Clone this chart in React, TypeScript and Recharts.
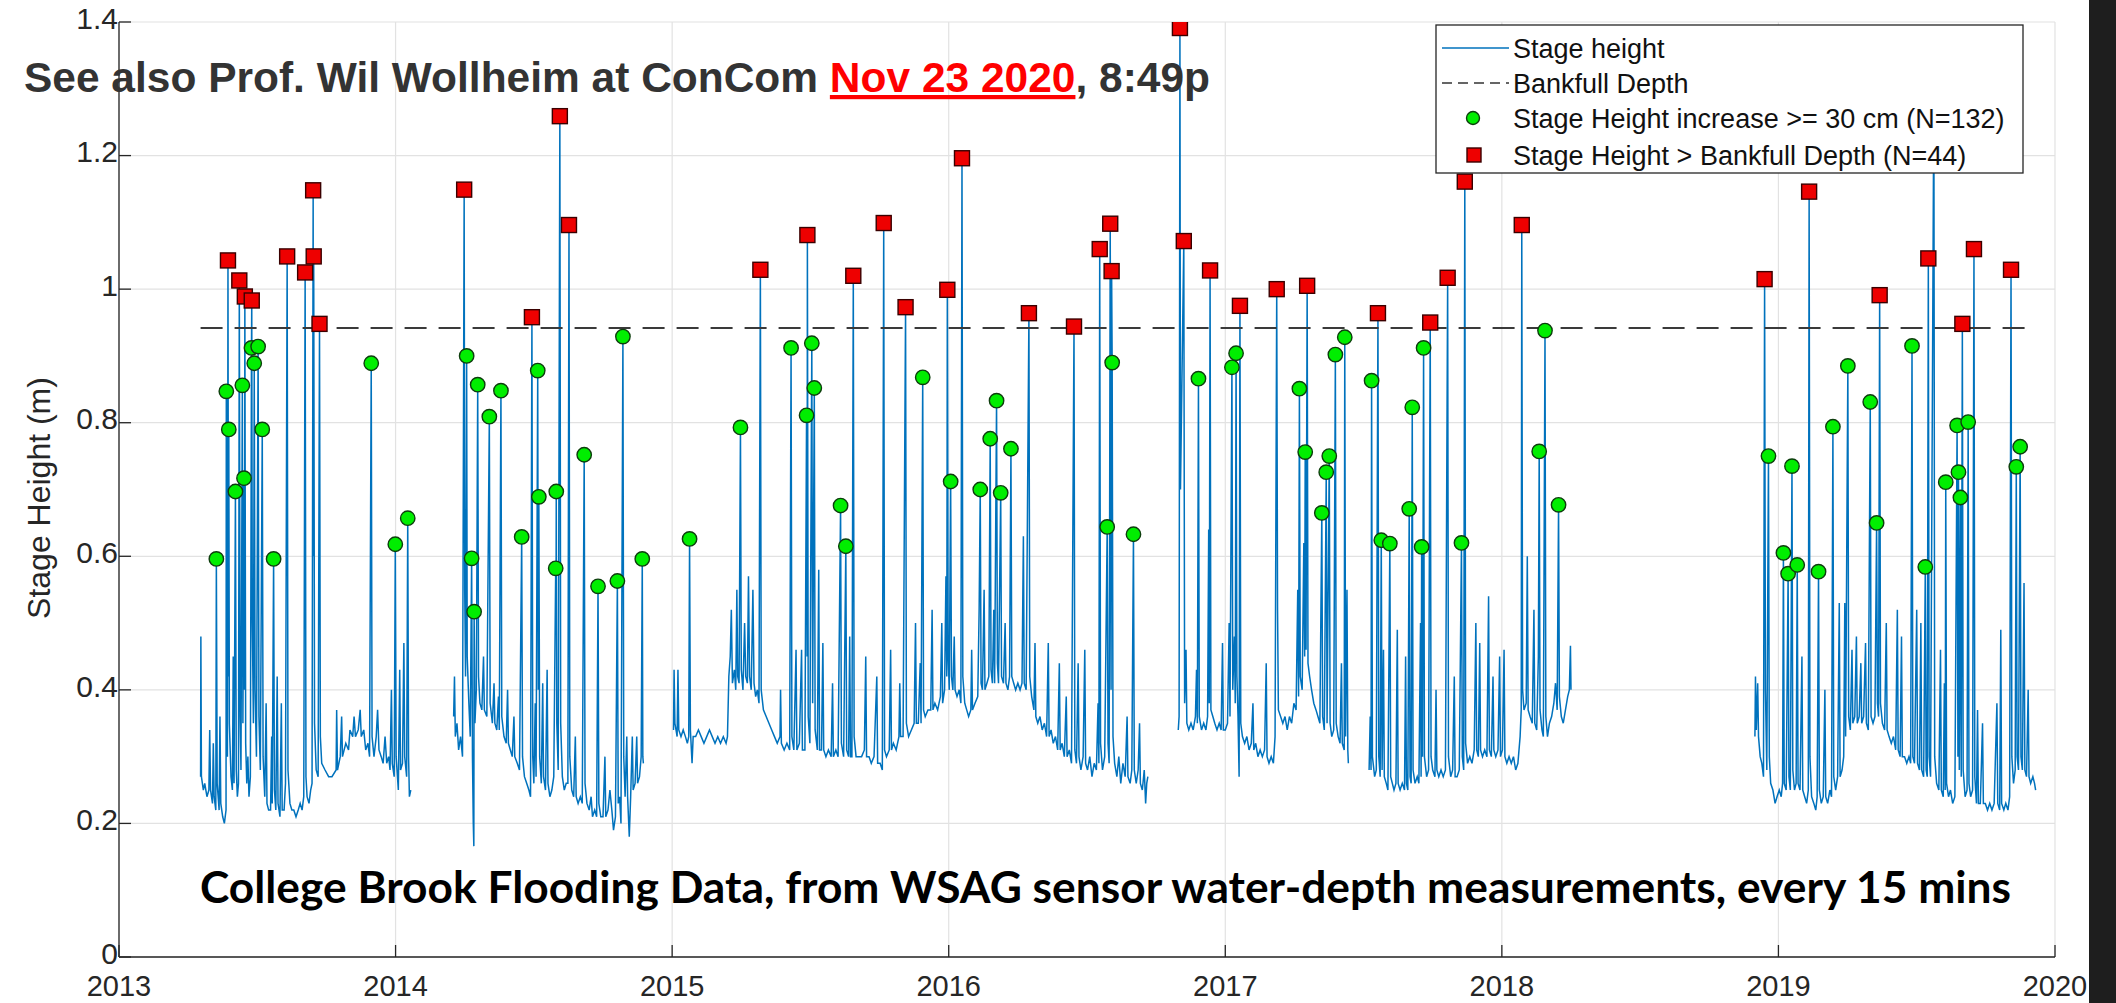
import React from 'react';
import { ComposedChart, Line, Scatter, XAxis, YAxis, CartesianGrid } from 'recharts';

type Pt = [number, number];

// axis ticks
const yearTicks = [2013, 2014, 2015, 2016, 2017, 2018, 2019, 2020];
const heightTicks = [0, 0.2, 0.4, 0.6, 0.8, 1, 1.2, 1.4];

// bankfull depth (m) over the sensor record
const bankfullDepth = 0.942;
const recordSpan = [2013.295, 2019.93];

// stage height (m), one array per continuous record
const stage2013: Pt[] = [
  [2013.295, 0.27], [2013.296, 0.48], [2013.298, 0.27], [2013.305, 0.25], [2013.31, 0.26], [2013.318, 0.24], [2013.325, 0.25],
  [2013.328, 0.34], [2013.331, 0.25], [2013.338, 0.23], [2013.341, 0.32], [2013.344, 0.24], [2013.35, 0.22], [2013.352, 0.596],
  [2013.355, 0.26], [2013.362, 0.22], [2013.365, 0.36], [2013.368, 0.23], [2013.375, 0.21], [2013.381, 0.2], [2013.387, 0.22],
  [2013.388, 0.847], [2013.39, 0.4], [2013.392, 0.3], [2013.394, 1.043], [2013.396, 0.42], [2013.397, 0.79], [2013.399, 0.35],
  [2013.405, 0.27], [2013.41, 0.25], [2013.413, 0.45], [2013.416, 0.26], [2013.421, 0.697], [2013.424, 0.28], [2013.428, 0.24],
  [2013.432, 0.26], [2013.435, 1.013], [2013.438, 0.36], [2013.441, 0.28], [2013.446, 0.856], [2013.448, 0.35], [2013.452, 0.717],
  [2013.454, 0.4], [2013.455, 0.989], [2013.458, 0.32], [2013.462, 0.26], [2013.466, 0.3], [2013.47, 0.24], [2013.475, 0.27],
  [2013.479, 0.912], [2013.48, 0.983], [2013.482, 0.5], [2013.486, 0.35], [2013.489, 0.889], [2013.492, 0.4], [2013.497, 0.3],
  [2013.503, 0.914], [2013.506, 0.36], [2013.511, 0.28], [2013.518, 0.79], [2013.521, 0.3], [2013.527, 0.24], [2013.532, 0.38],
  [2013.535, 0.23], [2013.541, 0.22], [2013.548, 0.22], [2013.552, 0.33], [2013.554, 0.23], [2013.559, 0.596], [2013.562, 0.25],
  [2013.567, 0.22], [2013.572, 0.42], [2013.575, 0.23], [2013.582, 0.21], [2013.587, 0.38], [2013.59, 0.22], [2013.597, 0.22],
  [2013.602, 0.26], [2013.608, 1.049], [2013.611, 0.28], [2013.618, 0.23], [2013.625, 0.22], [2013.632, 0.22], [2013.64, 0.21],
  [2013.648, 0.22], [2013.655, 0.23], [2013.662, 0.22], [2013.668, 0.24], [2013.673, 1.025], [2013.676, 0.27], [2013.68, 0.24],
  [2013.687, 0.23], [2013.693, 0.25], [2013.698, 0.26], [2013.702, 1.148], [2013.703, 0.6], [2013.704, 1.049], [2013.707, 0.35],
  [2013.713, 0.28], [2013.72, 0.27], [2013.725, 0.948], [2013.728, 0.33], [2013.733, 0.29], [2013.745, 0.28], [2013.758, 0.27],
  [2013.77, 0.27], [2013.785, 0.28], [2013.787, 0.37], [2013.79, 0.28], [2013.8, 0.3], [2013.805, 0.36], [2013.808, 0.3],
  [2013.82, 0.32], [2013.83, 0.31], [2013.835, 0.34], [2013.845, 0.33], [2013.85, 0.36], [2013.855, 0.33], [2013.865, 0.34],
  [2013.872, 0.37], [2013.876, 0.33], [2013.885, 0.34], [2013.892, 0.31], [2013.9, 0.32], [2013.906, 0.3], [2013.912, 0.889],
  [2013.915, 0.33], [2013.922, 0.3], [2013.93, 0.33], [2013.935, 0.37], [2013.94, 0.31], [2013.948, 0.3], [2013.955, 0.29],
  [2013.962, 0.33], [2013.968, 0.29], [2013.975, 0.3], [2013.98, 0.28], [2013.985, 0.4], [2013.988, 0.29], [2013.995, 0.27],
  [2013.999, 0.618], [2014.002, 0.3], [2014.01, 0.25], [2014.015, 0.43], [2014.018, 0.28], [2014.025, 0.29], [2014.03, 0.47],
  [2014.033, 0.3], [2014.04, 0.27], [2014.044, 0.657], [2014.047, 0.3], [2014.05, 0.24], [2014.055, 0.25],
];

const stage2014: Pt[] = [
  [2014.21, 0.36], [2014.213, 0.42], [2014.216, 0.33], [2014.222, 0.35], [2014.228, 0.31], [2014.235, 0.33], [2014.242, 0.3],
  [2014.248, 1.149], [2014.25, 0.55], [2014.253, 0.42], [2014.257, 0.9], [2014.259, 0.45], [2014.265, 0.38], [2014.27, 0.33],
  [2014.275, 0.597], [2014.278, 0.3], [2014.281, 0.2], [2014.283, 0.166], [2014.284, 0.517], [2014.287, 0.35], [2014.292, 0.4],
  [2014.297, 0.857], [2014.3, 0.42], [2014.305, 0.38], [2014.312, 0.37], [2014.318, 0.45], [2014.321, 0.37], [2014.33, 0.36],
  [2014.339, 0.809], [2014.342, 0.38], [2014.35, 0.35], [2014.356, 0.41], [2014.359, 0.35], [2014.366, 0.34], [2014.372, 0.39],
  [2014.375, 0.34], [2014.381, 0.848], [2014.384, 0.36], [2014.392, 0.33], [2014.4, 0.32], [2014.405, 0.4], [2014.408, 0.32],
  [2014.415, 0.31], [2014.422, 0.3], [2014.428, 0.36], [2014.431, 0.3], [2014.44, 0.29], [2014.448, 0.28], [2014.456, 0.629],
  [2014.459, 0.3], [2014.466, 0.27], [2014.474, 0.26], [2014.482, 0.25], [2014.488, 0.24], [2014.493, 0.958], [2014.496, 0.3],
  [2014.5, 0.26], [2014.505, 0.38], [2014.508, 0.27], [2014.514, 0.878], [2014.516, 0.4], [2014.518, 0.689], [2014.521, 0.3],
  [2014.527, 0.26], [2014.532, 0.41], [2014.535, 0.27], [2014.542, 0.25], [2014.548, 0.43], [2014.551, 0.26], [2014.558, 0.24],
  [2014.565, 0.25], [2014.572, 0.27], [2014.579, 0.582], [2014.58, 0.5], [2014.581, 0.697], [2014.583, 0.35], [2014.588, 0.28],
  [2014.594, 1.259], [2014.597, 0.35], [2014.603, 0.27], [2014.61, 0.25], [2014.617, 0.26], [2014.623, 0.26], [2014.627, 1.096],
  [2014.63, 0.3], [2014.637, 0.25], [2014.644, 0.24], [2014.65, 0.33], [2014.653, 0.24], [2014.66, 0.23], [2014.668, 0.24],
  [2014.675, 0.23], [2014.682, 0.752], [2014.685, 0.26], [2014.692, 0.23], [2014.7, 0.22], [2014.707, 0.24], [2014.712, 0.21],
  [2014.72, 0.22], [2014.727, 0.21], [2014.732, 0.555], [2014.735, 0.23], [2014.742, 0.21], [2014.75, 0.21], [2014.757, 0.3],
  [2014.76, 0.21], [2014.768, 0.22], [2014.775, 0.25], [2014.782, 0.22], [2014.788, 0.19], [2014.795, 0.21], [2014.802, 0.563],
  [2014.805, 0.23], [2014.81, 0.24], [2014.815, 0.2], [2014.822, 0.929], [2014.825, 0.3], [2014.83, 0.24], [2014.836, 0.33],
  [2014.839, 0.24], [2014.845, 0.18], [2014.85, 0.24], [2014.856, 0.33], [2014.859, 0.25], [2014.866, 0.26], [2014.872, 0.33],
  [2014.875, 0.26], [2014.882, 0.27], [2014.888, 0.3], [2014.892, 0.596], [2014.894, 0.3], [2014.896, 0.29],
];

const stage2015: Pt[] = [
  [2015.005, 0.34], [2015.007, 0.43], [2015.01, 0.35], [2015.018, 0.33], [2015.021, 0.43], [2015.024, 0.34], [2015.032, 0.33],
  [2015.04, 0.34], [2015.048, 0.33], [2015.055, 0.32], [2015.06, 0.33], [2015.063, 0.626], [2015.066, 0.34], [2015.072, 0.29],
  [2015.076, 0.33], [2015.085, 0.33], [2015.095, 0.34], [2015.105, 0.33], [2015.115, 0.32], [2015.125, 0.33], [2015.135, 0.34],
  [2015.145, 0.33], [2015.155, 0.32], [2015.165, 0.33], [2015.175, 0.32], [2015.185, 0.33], [2015.195, 0.32], [2015.2, 0.33],
  [2015.205, 0.42], [2015.21, 0.45], [2015.214, 0.52], [2015.218, 0.41], [2015.225, 0.43], [2015.23, 0.4], [2015.234, 0.55],
  [2015.237, 0.42], [2015.242, 0.41], [2015.247, 0.793], [2015.25, 0.43], [2015.256, 0.4], [2015.262, 0.5], [2015.266, 0.42],
  [2015.272, 0.41], [2015.276, 0.57], [2015.28, 0.42], [2015.286, 0.4], [2015.292, 0.55], [2015.296, 0.41], [2015.302, 0.39],
  [2015.308, 0.4], [2015.314, 0.38], [2015.319, 1.029], [2015.322, 0.4], [2015.33, 0.37], [2015.34, 0.36], [2015.35, 0.35],
  [2015.36, 0.34], [2015.37, 0.33], [2015.38, 0.32], [2015.39, 0.33], [2015.392, 0.4], [2015.395, 0.32], [2015.405, 0.31],
  [2015.415, 0.32], [2015.425, 0.31], [2015.43, 0.912], [2015.433, 0.33], [2015.44, 0.31], [2015.448, 0.46], [2015.451, 0.31],
  [2015.46, 0.32], [2015.468, 0.46], [2015.471, 0.31], [2015.48, 0.31], [2015.486, 0.811], [2015.488, 0.45], [2015.489, 1.081],
  [2015.492, 0.36], [2015.498, 0.32], [2015.505, 0.919], [2015.508, 0.38], [2015.514, 0.852], [2015.517, 0.34], [2015.525, 0.31],
  [2015.53, 0.58], [2015.533, 0.31], [2015.54, 0.31], [2015.545, 0.47], [2015.548, 0.31], [2015.556, 0.3], [2015.565, 0.31],
  [2015.575, 0.3], [2015.58, 0.41], [2015.583, 0.3], [2015.592, 0.31], [2015.6, 0.3], [2015.609, 0.676], [2015.612, 0.32],
  [2015.62, 0.3], [2015.628, 0.615], [2015.631, 0.31], [2015.638, 0.3], [2015.642, 0.48], [2015.645, 0.3], [2015.65, 0.3],
  [2015.655, 1.02], [2015.658, 0.33], [2015.665, 0.3], [2015.675, 0.3], [2015.685, 0.3], [2015.695, 0.31], [2015.7, 0.45],
  [2015.703, 0.3], [2015.712, 0.3], [2015.72, 0.29], [2015.73, 0.3], [2015.74, 0.42], [2015.743, 0.29], [2015.752, 0.29],
  [2015.76, 0.28], [2015.765, 1.099], [2015.768, 0.31], [2015.775, 0.3], [2015.785, 0.31], [2015.79, 0.46], [2015.793, 0.31],
  [2015.8, 0.32], [2015.81, 0.31], [2015.82, 0.33], [2015.823, 0.41], [2015.826, 0.33], [2015.835, 0.33], [2015.844, 0.973],
  [2015.847, 0.35], [2015.855, 0.33], [2015.865, 0.34], [2015.875, 0.35], [2015.88, 0.5], [2015.883, 0.35], [2015.89, 0.35],
  [2015.897, 0.44], [2015.9, 0.35], [2015.906, 0.868], [2015.909, 0.37], [2015.915, 0.36], [2015.925, 0.37], [2015.935, 0.37],
  [2015.94, 0.52], [2015.943, 0.37], [2015.95, 0.38], [2015.96, 0.37], [2015.97, 0.39], [2015.975, 0.5], [2015.978, 0.38],
  [2015.985, 0.4], [2015.99, 0.57], [2015.993, 0.42], [2015.995, 0.999], [2015.998, 0.45], [2016.002, 0.4], [2016.007, 0.712],
  [2016.01, 0.42], [2016.015, 0.4], [2016.02, 0.48], [2016.023, 0.4], [2016.03, 0.39], [2016.038, 0.4], [2016.044, 0.38],
  [2016.048, 1.196], [2016.051, 0.42], [2016.058, 0.38], [2016.065, 0.37], [2016.072, 0.36], [2016.08, 0.37], [2016.083, 0.46],
  [2016.086, 0.37], [2016.095, 0.38], [2016.105, 0.39], [2016.11, 0.52], [2016.114, 0.7], [2016.117, 0.41], [2016.122, 0.4],
  [2016.128, 0.55], [2016.131, 0.4], [2016.138, 0.41], [2016.145, 0.42], [2016.15, 0.776], [2016.153, 0.43], [2016.158, 0.41],
  [2016.163, 0.52], [2016.166, 0.41], [2016.173, 0.833], [2016.176, 0.44], [2016.18, 0.41], [2016.188, 0.695], [2016.191, 0.42],
  [2016.198, 0.41], [2016.204, 0.5], [2016.207, 0.41], [2016.214, 0.4], [2016.22, 0.42], [2016.225, 0.761], [2016.228, 0.42],
  [2016.235, 0.41], [2016.242, 0.4], [2016.25, 0.41], [2016.258, 0.4], [2016.265, 0.41], [2016.27, 0.63], [2016.273, 0.41],
  [2016.28, 0.4], [2016.29, 0.964], [2016.293, 0.42], [2016.3, 0.39], [2016.308, 0.37], [2016.312, 0.47], [2016.315, 0.36],
  [2016.322, 0.35], [2016.33, 0.36], [2016.338, 0.34], [2016.346, 0.35], [2016.354, 0.33], [2016.36, 0.47], [2016.363, 0.33],
  [2016.37, 0.34], [2016.378, 0.32], [2016.386, 0.33], [2016.394, 0.31], [2016.4, 0.44], [2016.403, 0.31], [2016.41, 0.32],
  [2016.418, 0.3], [2016.425, 0.39], [2016.428, 0.3], [2016.436, 0.31], [2016.444, 0.29], [2016.453, 0.944], [2016.456, 0.31],
  [2016.462, 0.29], [2016.468, 0.44], [2016.471, 0.3], [2016.478, 0.28], [2016.486, 0.3], [2016.492, 0.46], [2016.495, 0.29],
  [2016.502, 0.28], [2016.51, 0.3], [2016.518, 0.27], [2016.526, 0.29], [2016.534, 0.28], [2016.54, 0.38], [2016.543, 0.29],
  [2016.546, 1.06], [2016.549, 0.32], [2016.556, 0.28], [2016.564, 0.3], [2016.573, 0.644], [2016.576, 0.32], [2016.58, 0.29],
  [2016.584, 1.098], [2016.587, 0.4], [2016.589, 1.027], [2016.591, 0.89], [2016.594, 0.33], [2016.6, 0.29], [2016.608, 0.27],
  [2016.615, 0.3], [2016.622, 0.26], [2016.63, 0.29], [2016.638, 0.27], [2016.645, 0.36], [2016.648, 0.27], [2016.656, 0.26],
  [2016.662, 0.28], [2016.668, 0.633], [2016.671, 0.28], [2016.678, 0.26], [2016.685, 0.28], [2016.69, 0.35], [2016.693, 0.26],
  [2016.7, 0.25], [2016.707, 0.28], [2016.712, 0.23], [2016.716, 0.26], [2016.72, 0.27],
];

const stage2017a: Pt[] = [
  [2016.83, 0.34], [2016.833, 0.36], [2016.836, 1.391], [2016.838, 0.7], [2016.85, 1.072], [2016.853, 0.38], [2016.858, 0.46],
  [2016.861, 0.35], [2016.868, 0.34], [2016.876, 0.35], [2016.884, 0.34], [2016.892, 0.36], [2016.896, 0.43], [2016.899, 0.35],
  [2016.903, 0.866], [2016.906, 0.36], [2016.914, 0.34], [2016.922, 0.35], [2016.93, 0.34], [2016.936, 0.36], [2016.94, 0.64],
  [2016.942, 0.38], [2016.945, 1.028], [2016.948, 0.37], [2016.955, 0.36], [2016.962, 0.35], [2016.97, 0.34], [2016.978, 0.35],
  [2016.985, 0.34], [2016.99, 0.47], [2016.993, 0.34], [2017.0, 0.34], [2017.008, 0.35], [2017.014, 0.5], [2017.017, 0.36],
  [2017.024, 0.883], [2017.027, 0.4], [2017.033, 0.48], [2017.036, 0.38], [2017.039, 0.904], [2017.042, 0.42], [2017.046, 0.36],
  [2017.05, 0.27], [2017.053, 0.975], [2017.056, 0.35], [2017.062, 0.33], [2017.07, 0.32], [2017.078, 0.33], [2017.086, 0.31],
  [2017.094, 0.32], [2017.1, 0.38], [2017.103, 0.31], [2017.11, 0.32], [2017.118, 0.3], [2017.126, 0.31], [2017.134, 0.3],
  [2017.142, 0.31], [2017.148, 0.44], [2017.151, 0.3], [2017.158, 0.29], [2017.166, 0.3], [2017.174, 0.29], [2017.18, 0.33],
  [2017.186, 1.0], [2017.189, 0.52], [2017.192, 0.37], [2017.2, 0.36], [2017.208, 0.35], [2017.216, 0.36], [2017.224, 0.34],
  [2017.232, 0.36], [2017.24, 0.35], [2017.248, 0.38], [2017.256, 0.37], [2017.262, 0.55], [2017.265, 0.39], [2017.268, 0.851],
  [2017.271, 0.42], [2017.278, 0.4], [2017.284, 0.62], [2017.287, 0.45], [2017.289, 0.756], [2017.292, 0.46], [2017.296, 1.005],
  [2017.299, 0.44], [2017.305, 0.42], [2017.312, 0.4], [2017.32, 0.38], [2017.328, 0.37], [2017.335, 0.36], [2017.342, 0.35],
  [2017.349, 0.665], [2017.352, 0.36], [2017.358, 0.34], [2017.365, 0.726], [2017.368, 0.35], [2017.376, 0.75], [2017.379, 0.35],
  [2017.385, 0.33], [2017.392, 0.34], [2017.398, 0.902], [2017.401, 0.35], [2017.408, 0.33], [2017.415, 0.32], [2017.42, 0.44],
  [2017.423, 0.32], [2017.43, 0.31], [2017.432, 0.928], [2017.435, 0.33], [2017.44, 0.55], [2017.443, 0.31], [2017.445, 0.29],
];

const stage2017b: Pt[] = [
  [2017.52, 0.28], [2017.524, 0.36], [2017.527, 0.28], [2017.529, 0.863], [2017.532, 0.3], [2017.54, 0.27], [2017.546, 0.28],
  [2017.552, 0.964], [2017.555, 0.3], [2017.56, 0.27], [2017.564, 0.624], [2017.567, 0.28], [2017.572, 0.46], [2017.575, 0.27],
  [2017.582, 0.26], [2017.588, 0.25], [2017.595, 0.619], [2017.598, 0.27], [2017.604, 0.26], [2017.61, 0.25], [2017.617, 0.26],
  [2017.622, 0.49], [2017.625, 0.26], [2017.632, 0.25], [2017.64, 0.26], [2017.648, 0.25], [2017.652, 0.45], [2017.655, 0.26],
  [2017.66, 0.25], [2017.665, 0.671], [2017.668, 0.27], [2017.672, 0.26], [2017.676, 0.823], [2017.679, 0.28], [2017.686, 0.26],
  [2017.694, 0.27], [2017.7, 0.26], [2017.706, 0.5], [2017.708, 0.27], [2017.71, 0.614], [2017.713, 0.3], [2017.717, 0.912],
  [2017.72, 0.3], [2017.728, 0.27], [2017.735, 0.28], [2017.741, 0.95], [2017.744, 0.3], [2017.75, 0.28], [2017.758, 0.27],
  [2017.762, 0.4], [2017.765, 0.28], [2017.772, 0.27], [2017.78, 0.28], [2017.788, 0.27], [2017.796, 0.28], [2017.804, 1.017],
  [2017.807, 0.3], [2017.815, 0.27], [2017.822, 0.28], [2017.828, 0.42], [2017.831, 0.27], [2017.838, 0.27], [2017.846, 0.28],
  [2017.854, 0.62], [2017.857, 0.3], [2017.862, 0.28], [2017.866, 1.161], [2017.869, 0.32], [2017.876, 0.29], [2017.884, 0.3],
  [2017.892, 0.29], [2017.9, 0.31], [2017.906, 0.5], [2017.909, 0.31], [2017.915, 0.3], [2017.92, 0.47], [2017.923, 0.31],
  [2017.93, 0.3], [2017.938, 0.31], [2017.946, 0.3], [2017.952, 0.54], [2017.955, 0.31], [2017.962, 0.3], [2017.968, 0.42],
  [2017.971, 0.31], [2017.978, 0.3], [2017.986, 0.31], [2017.992, 0.45], [2017.995, 0.3], [2018.002, 0.31], [2018.008, 0.46],
  [2018.011, 0.3], [2018.018, 0.29], [2018.026, 0.3], [2018.034, 0.29], [2018.042, 0.3], [2018.05, 0.28], [2018.058, 0.29],
  [2018.066, 0.33], [2018.07, 0.37], [2018.072, 1.096], [2018.075, 0.4], [2018.08, 0.37], [2018.088, 0.38], [2018.092, 0.6],
  [2018.095, 0.37], [2018.102, 0.36], [2018.11, 0.35], [2018.116, 0.52], [2018.119, 0.35], [2018.126, 0.34], [2018.132, 0.45],
  [2018.135, 0.757], [2018.138, 0.37], [2018.145, 0.34], [2018.15, 0.33], [2018.156, 0.938], [2018.159, 0.36], [2018.165, 0.33],
  [2018.172, 0.35], [2018.18, 0.36], [2018.188, 0.38], [2018.194, 0.41], [2018.2, 0.37], [2018.205, 0.677], [2018.208, 0.39],
  [2018.215, 0.36], [2018.222, 0.35], [2018.23, 0.37], [2018.238, 0.39], [2018.244, 0.4], [2018.248, 0.466], [2018.25, 0.4],
];

const stage2019: Pt[] = [
  [2018.915, 0.33], [2018.917, 0.42], [2018.92, 0.34], [2018.925, 0.41], [2018.928, 0.33], [2018.934, 0.3], [2018.94, 0.29],
  [2018.946, 0.27], [2018.95, 1.015], [2018.953, 0.4], [2018.958, 0.28], [2018.964, 0.75], [2018.967, 0.3], [2018.972, 0.26],
  [2018.98, 0.25], [2018.988, 0.23], [2018.995, 0.24], [2019.003, 0.25], [2019.01, 0.24], [2019.015, 0.26], [2019.018, 0.605],
  [2019.021, 0.26], [2019.028, 0.25], [2019.035, 0.574], [2019.038, 0.27], [2019.043, 0.25], [2019.049, 0.735], [2019.052, 0.28],
  [2019.058, 0.25], [2019.064, 0.26], [2019.068, 0.587], [2019.071, 0.26], [2019.078, 0.25], [2019.085, 0.45], [2019.088, 0.25],
  [2019.095, 0.24], [2019.102, 0.23], [2019.108, 0.25], [2019.111, 1.146], [2019.114, 0.3], [2019.12, 0.24], [2019.128, 0.23],
  [2019.135, 0.22], [2019.14, 0.24], [2019.145, 0.577], [2019.148, 0.25], [2019.155, 0.23], [2019.162, 0.24], [2019.168, 0.4],
  [2019.171, 0.24], [2019.178, 0.23], [2019.186, 0.25], [2019.192, 0.24], [2019.197, 0.794], [2019.2, 0.27], [2019.207, 0.25],
  [2019.214, 0.27], [2019.22, 0.53], [2019.223, 0.27], [2019.23, 0.28], [2019.236, 0.3], [2019.24, 0.53], [2019.243, 0.33],
  [2019.251, 0.885], [2019.254, 0.36], [2019.26, 0.34], [2019.266, 0.46], [2019.269, 0.35], [2019.276, 0.36], [2019.282, 0.48],
  [2019.285, 0.35], [2019.292, 0.36], [2019.298, 0.44], [2019.301, 0.35], [2019.308, 0.36], [2019.315, 0.47], [2019.318, 0.35],
  [2019.325, 0.34], [2019.332, 0.831], [2019.335, 0.36], [2019.342, 0.35], [2019.349, 0.36], [2019.355, 0.65], [2019.358, 0.38],
  [2019.362, 0.36], [2019.366, 0.991], [2019.369, 0.38], [2019.376, 0.35], [2019.384, 0.34], [2019.39, 0.5], [2019.393, 0.34],
  [2019.4, 0.33], [2019.408, 0.32], [2019.416, 0.33], [2019.424, 0.31], [2019.43, 0.52], [2019.433, 0.31], [2019.44, 0.3],
  [2019.445, 0.48], [2019.448, 0.3], [2019.456, 0.3], [2019.464, 0.29], [2019.472, 0.3], [2019.478, 0.29], [2019.483, 0.915],
  [2019.486, 0.3], [2019.492, 0.29], [2019.5, 0.52], [2019.503, 0.29], [2019.51, 0.28], [2019.515, 0.5], [2019.518, 0.28],
  [2019.525, 0.27], [2019.531, 0.584], [2019.534, 0.28], [2019.538, 0.27], [2019.542, 1.046], [2019.545, 0.3], [2019.55, 0.27],
  [2019.562, 1.3], [2019.565, 0.3], [2019.572, 0.26], [2019.58, 0.25], [2019.586, 0.46], [2019.589, 0.25], [2019.596, 0.24],
  [2019.6, 0.41], [2019.603, 0.25], [2019.605, 0.711], [2019.608, 0.26], [2019.615, 0.24], [2019.622, 0.25], [2019.63, 0.23],
  [2019.638, 0.24], [2019.646, 0.796], [2019.649, 0.3], [2019.651, 0.726], [2019.654, 0.28], [2019.658, 0.688], [2019.661, 0.27],
  [2019.665, 0.948], [2019.668, 0.28], [2019.675, 0.24], [2019.682, 0.25], [2019.686, 0.801], [2019.689, 0.26], [2019.695, 0.24],
  [2019.702, 0.25], [2019.707, 1.06], [2019.71, 0.27], [2019.716, 0.23], [2019.72, 0.37], [2019.723, 0.23], [2019.73, 0.23],
  [2019.738, 0.35], [2019.741, 0.23], [2019.748, 0.23], [2019.756, 0.22], [2019.764, 0.23], [2019.772, 0.22], [2019.78, 0.23],
  [2019.79, 0.38], [2019.793, 0.23], [2019.8, 0.22], [2019.804, 0.49], [2019.807, 0.23], [2019.815, 0.22], [2019.822, 0.23],
  [2019.83, 0.22], [2019.836, 0.24], [2019.841, 1.029], [2019.844, 0.3], [2019.85, 0.26], [2019.856, 0.28], [2019.86, 0.734],
  [2019.863, 0.3], [2019.868, 0.28], [2019.874, 0.764], [2019.877, 0.3], [2019.882, 0.28], [2019.888, 0.56], [2019.891, 0.28],
  [2019.897, 0.27], [2019.903, 0.4], [2019.906, 0.27], [2019.912, 0.26], [2019.92, 0.27], [2019.926, 0.26], [2019.93, 0.25],
];

// events: rise >= 30 cm (green circles)
const riseEvents: Pt[] = [
  [2013.352, 0.596], [2013.388, 0.847], [2013.397, 0.79], [2013.421, 0.697], [2013.446, 0.856], [2013.452, 0.717],
  [2013.479, 0.912], [2013.503, 0.914], [2013.489, 0.889], [2013.518, 0.79], [2013.559, 0.596], [2013.912, 0.889],
  [2013.999, 0.618], [2014.044, 0.657],
  [2014.257, 0.9], [2014.297, 0.857], [2014.339, 0.809], [2014.381, 0.848], [2014.275, 0.597], [2014.284, 0.517],
  [2014.456, 0.629], [2014.514, 0.878], [2014.518, 0.689], [2014.581, 0.697], [2014.579, 0.582], [2014.682, 0.752],
  [2014.732, 0.555], [2014.802, 0.563], [2014.822, 0.929], [2014.892, 0.596],
  [2015.063, 0.626], [2015.247, 0.793], [2015.43, 0.912], [2015.486, 0.811], [2015.505, 0.919], [2015.514, 0.852],
  [2015.609, 0.676], [2015.628, 0.615], [2015.906, 0.868],
  [2016.007, 0.712], [2016.114, 0.7], [2016.15, 0.776], [2016.173, 0.833], [2016.188, 0.695], [2016.225, 0.761],
  [2016.573, 0.644], [2016.591, 0.89], [2016.668, 0.633], [2016.903, 0.866],
  [2017.024, 0.883], [2017.039, 0.904], [2017.268, 0.851], [2017.289, 0.756], [2017.349, 0.665], [2017.365, 0.726],
  [2017.376, 0.75], [2017.398, 0.902], [2017.432, 0.928], [2017.529, 0.863], [2017.564, 0.624], [2017.595, 0.619],
  [2017.665, 0.671], [2017.676, 0.823], [2017.71, 0.614], [2017.717, 0.912], [2017.854, 0.62],
  [2018.135, 0.757], [2018.156, 0.938], [2018.205, 0.677], [2018.964, 0.75],
  [2019.018, 0.605], [2019.035, 0.574], [2019.049, 0.735], [2019.068, 0.587], [2019.145, 0.577], [2019.197, 0.794],
  [2019.251, 0.885], [2019.332, 0.831], [2019.355, 0.65], [2019.483, 0.915], [2019.531, 0.584], [2019.605, 0.711],
  [2019.646, 0.796], [2019.651, 0.726], [2019.658, 0.688], [2019.686, 0.801], [2019.86, 0.734], [2019.874, 0.764],
];

// events: above bankfull depth (red squares)
const overBankEvents: Pt[] = [
  [2013.394, 1.043], [2013.435, 1.013], [2013.455, 0.989], [2013.48, 0.983], [2013.608, 1.049], [2013.673, 1.025],
  [2013.702, 1.148], [2013.704, 1.049], [2013.725, 0.948],
  [2014.248, 1.149], [2014.493, 0.958], [2014.594, 1.259], [2014.627, 1.096],
  [2015.319, 1.029], [2015.489, 1.081], [2015.655, 1.02], [2015.765, 1.099], [2015.844, 0.973], [2015.995, 0.999],
  [2016.048, 1.196], [2016.29, 0.964], [2016.453, 0.944], [2016.546, 1.06], [2016.584, 1.098], [2016.589, 1.027],
  [2016.836, 1.391], [2016.85, 1.072], [2016.945, 1.028],
  [2017.053, 0.975], [2017.186, 1.0], [2017.296, 1.005], [2017.552, 0.964], [2017.741, 0.95], [2017.804, 1.017],
  [2017.866, 1.161], [2018.072, 1.096], [2018.95, 1.015],
  [2019.111, 1.146], [2019.366, 0.991], [2019.542, 1.046], [2019.562, 1.3], [2019.665, 0.948], [2019.707, 1.06],
  [2019.841, 1.029],
];

const segments = [stage2013, stage2014, stage2015, stage2017a, stage2017b, stage2019];
// a null point after every record so the line breaks over the gaps
const stageData = segments.flatMap((seg) => [
  ...seg.map(([t, v]) => ({ t, v })),
  { t: seg[seg.length - 1][0] + 0.0005, v: null as number | null },
]);
const riseData = riseEvents.map(([t, v]) => ({ t, v }));
const overBankData = overBankEvents.map(([t, v]) => ({ t, v }));
const bankfullData = recordSpan.map((t) => ({ t, v: bankfullDepth }));

const W = 2116;
const H = 1003;
const SANS = '"Liberation Sans", Arial, Helvetica, sans-serif';
const BLUE = '#0072BD';
const xTick = { fontSize: 29, fill: '#262626', fontFamily: SANS };
const yTick = { fontSize: 30, fill: '#262626', fontFamily: SANS, dy: -4 };
const axisLine = { stroke: '#262626', strokeWidth: 1.3 };

const GreenDot = (p: any) => (
  <circle cx={p.cx} cy={p.cy} r={7.2} fill="#00ee00" stroke="#0d3d0d" strokeWidth={1.4} />
);
const RedSquare = (p: any) => (
  <rect x={p.cx - 7.5} y={p.cy - 7.5} width={15} height={15} fill="#ee0000" stroke="#3a0000" strokeWidth={1.4} />
);

function Overlay() {
  const lx = 1436;
  const rows = [48, 83, 118, 155];
  return (
    <svg width={W} height={H} style={{ position: 'absolute', left: 0, top: 0, pointerEvents: 'none' }}>
      {/* y axis title */}
      <text
        transform="translate(50,498) rotate(-90)"
        textAnchor="middle"
        fontSize={32}
        fontFamily={SANS}
        fill="#262626"
      >
        Stage Height (m)
      </text>

      {/* note at the top */}
      <text
        x={24}
        y={92}
        fontSize={42}
        fontWeight="bold"
        fontFamily={SANS}
        fill="#333333"
        textLength={1186}
        lengthAdjust="spacingAndGlyphs"
      >
        {'See also Prof. Wil Wollheim at ConCom '}
        <tspan fill="#ff0000" style={{ textDecoration: 'underline' }}>
          Nov 23 2020
        </tspan>
        {', 8:49p'}
      </text>

      {/* caption near the bottom */}
      <text
        x={200}
        y={903}
        fontSize={44}
        fontWeight={700}
        fontFamily='Lato, "Open Sans", sans-serif'
        fill="#000"
        textLength={1811}
        lengthAdjust="spacingAndGlyphs"
      >
        College Brook Flooding Data, from WSAG sensor water-depth measurements, every 15 mins
      </text>

      {/* legend */}
      <rect x={lx} y={25} width={587} height={148} fill="#fff" stroke="#262626" strokeWidth={1.3} />
      <line x1={lx + 6} x2={lx + 73} y1={rows[0]} y2={rows[0]} stroke={BLUE} strokeWidth={1.3} />
      <line
        x1={lx + 6}
        x2={lx + 73}
        y1={rows[1]}
        y2={rows[1]}
        stroke="#333"
        strokeWidth={1.6}
        strokeDasharray="10 6"
      />
      <circle cx={lx + 37} cy={rows[2]} r={6.5} fill="#00ee00" stroke="#0d3d0d" strokeWidth={1.4} />
      <rect x={lx + 31} y={rows[3] - 7} width={14} height={14} fill="#ee0000" stroke="#3a0000" strokeWidth={1.4} />
      {['Stage height', 'Bankfull Depth', 'Stage Height increase >= 30 cm (N=132)', 'Stage Height > Bankfull Depth (N=44)'].map(
        (label, i) => (
          <text key={label} x={lx + 77} y={rows[i] + 9.5} fontSize={27} fontFamily={SANS} fill="#111">
            {label}
          </text>
        ),
      )}

      {/* dark strip on the right edge of the screenshot */}
      <rect x={2089} y={0} width={27} height={H} fill="#1e1e1e" />
    </svg>
  );
}

export default function App() {
  return (
    <div style={{ position: 'absolute', left: 0, top: 0, width: W, height: H, background: '#fff', overflow: 'hidden' }}>
      <ComposedChart width={W} height={H} margin={{ top: 22, right: 61, bottom: 6, left: 59 }}>
        <CartesianGrid xAxisId="b" yAxisId="l" stroke="#e2e2e2" strokeWidth={1.2} />
        <XAxis
          xAxisId="b"
          dataKey="t"
          type="number"
          domain={[2013, 2020]}
          ticks={yearTicks}
          interval={0}
          allowDataOverflow
          height={40}
          tickSize={-12}
          tickMargin={30}
          tick={xTick}
          tickLine={axisLine}
          axisLine={axisLine}
        />
        <XAxis
          xAxisId="t"
          orientation="top"
          type="number"
          domain={[2013, 2020]}
          ticks={yearTicks}
          interval={0}
          allowDataOverflow
          height={0}
          tickSize={-12}
          tick={false}
          tickLine={axisLine}
          axisLine={axisLine}
        />
        <YAxis
          yAxisId="l"
          dataKey="v"
          type="number"
          domain={[0, 1.4]}
          ticks={heightTicks}
          interval={0}
          allowDataOverflow
          width={60}
          tickSize={-12}
          tickMargin={13}
          tick={yTick}
          tickLine={axisLine}
          axisLine={axisLine}
          tickFormatter={(v: number) => String(Number(v.toFixed(1)))}
        />
        <YAxis
          yAxisId="r"
          orientation="right"
          type="number"
          domain={[0, 1.4]}
          ticks={heightTicks}
          interval={0}
          allowDataOverflow
          width={0}
          tickSize={-12}
          tick={false}
          tickLine={axisLine}
          axisLine={axisLine}
        />
        <Line
          xAxisId="b"
          yAxisId="l"
          data={stageData}
          dataKey="v"
          type="linear"
          stroke={BLUE}
          strokeWidth={1.5}
          dot={false}
          activeDot={false}
          isAnimationActive={false}
        />
        <Line
          xAxisId="b"
          yAxisId="l"
          data={bankfullData}
          dataKey="v"
          type="linear"
          stroke="#3a3a3a"
          strokeWidth={2}
          strokeDasharray="22 12"
          dot={false}
          activeDot={false}
          isAnimationActive={false}
        />
        <Scatter
          xAxisId="b"
          yAxisId="l"
          data={riseData}
          dataKey="v"
          shape={GreenDot}
          isAnimationActive={false}
        />
        <Scatter
          xAxisId="b"
          yAxisId="l"
          data={overBankData}
          dataKey="v"
          shape={RedSquare}
          isAnimationActive={false}
        />
      </ComposedChart>
      <Overlay />
    </div>
  );
}
